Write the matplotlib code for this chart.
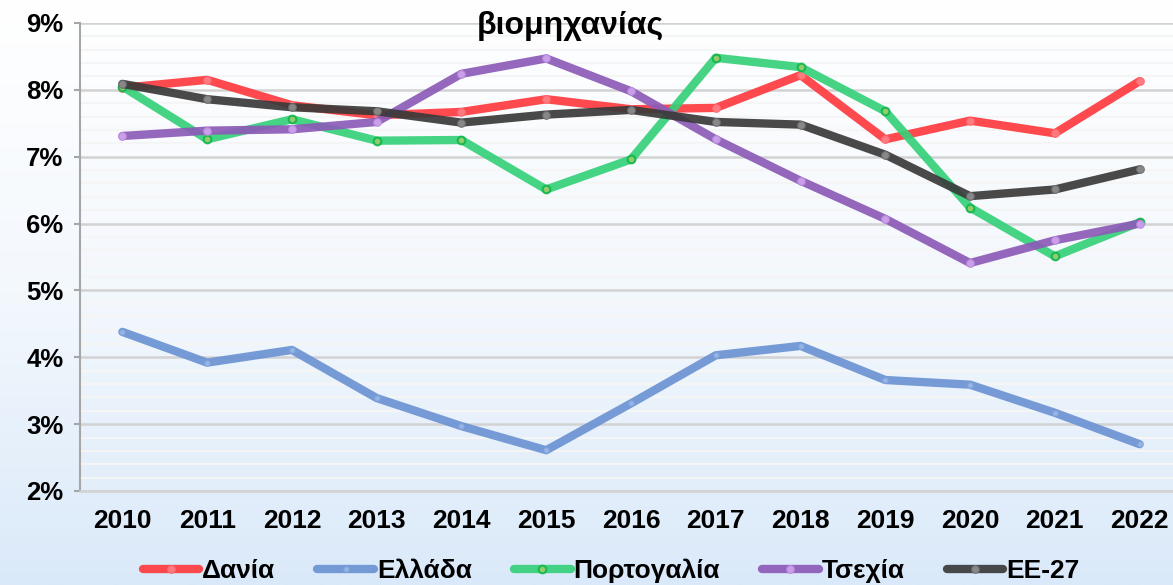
import numpy as np
import matplotlib
matplotlib.use("Agg")
from matplotlib import pyplot as plt
from matplotlib.colors import LinearSegmentedColormap
from matplotlib.ticker import MultipleLocator, FuncFormatter

years = list(range(2010, 2023))
series_names = ["Δανία", "Ελλάδα", "Πορτογαλία", "Τσεχία", "ΕΕ-27"]
denmark = [8.03, 8.15, 7.77, 7.62, 7.67, 7.86, 7.71, 7.73, 8.22, 7.26, 7.54, 7.35, 8.13]
greece = [4.38, 3.92, 4.11, 3.39, 2.97, 2.61, 3.31, 4.03, 4.17, 3.66, 3.59, 3.17, 2.70]
portugal = [8.05, 7.26, 7.56, 7.24, 7.25, 6.51, 6.96, 8.48, 8.34, 7.68, 6.24, 5.51, 6.02]
czechia = [7.31, 7.39, 7.41, 7.52, 8.24, 8.47, 7.98, 7.26, 6.64, 6.07, 5.41, 5.75, 6.00]
eu27 = [8.09, 7.86, 7.74, 7.68, 7.51, 7.63, 7.70, 7.52, 7.48, 7.03, 6.41, 6.51, 6.81]
title_text = "βιομηχανίας"

# line colour, marker face, marker edge
styles = [
    ("#FF3B3F", "#FF8086", "#FF6A70"),
    ("#6B93D3", "#9DB8E6", "#8AABE0"),
    ("#36D07A", "#9CCB6A", "#12B84E"),
    ("#8C5BB8", "#CFA3EE", "#B98BDF"),
    ("#3A3A3A", "#8E8E8E", "#6E6E6E"),
]

plt.rcParams["font.family"] = ["Liberation Sans", "DejaVu Sans"]
plt.rcParams["font.weight"] = "bold"

fig = plt.figure(figsize=(11.73, 5.85), dpi=100)

# background gradient over the whole figure
bg = fig.add_axes([0, 0, 1, 1], zorder=-10)
grad = np.linspace(0, 1, 256).reshape(-1, 1)
cmap = LinearSegmentedColormap.from_list("bg", ["#FFFFFF", "#F3F8FD", "#DAE9F9"])
bg.imshow(grad, aspect="auto", cmap=cmap, extent=[0, 1, 0, 1], origin="upper")
bg.axis("off")

ax = fig.add_axes([80 / 1173, 94 / 585, 1102 / 1173, 468 / 585])
ax.patch.set_alpha(0)

all_data = [denmark, greece, portugal, czechia, eu27]
for name, vals, (lc, mf, me) in zip(series_names, all_data, styles):
    ms = 5.5 if name != "Ελλάδα" else 3.5
    ax.plot(years, vals, color=lc, lw=6, alpha=0.92, solid_capstyle="round",
            marker="o", markersize=ms, markerfacecolor=mf, markeredgecolor=me,
            markeredgewidth=1.5 if name == "Πορτογαλία" else 0.8, label=name, zorder=3)

ax.set_xlim(2009.5, 2022.5)
ax.set_ylim(2, 9)
ax.set_xticks(years)
ax.yaxis.set_major_locator(MultipleLocator(1))
ax.yaxis.set_minor_locator(MultipleLocator(0.2))
ax.yaxis.set_major_formatter(FuncFormatter(lambda v, p: f"{v:.0f}%"))
ax.grid(axis="y", which="major", color="#D2D2D2", lw=1.8, zorder=1)
ax.grid(axis="y", which="minor", color="#F5F5F5", lw=1.6, zorder=0.5)

for s in ["top", "right"]:
    ax.spines[s].set_visible(False)
ax.spines["left"].set_color("#A6A6A6")
ax.spines["left"].set_linewidth(1.5)
ax.spines["bottom"].set_color("#D2D2D2")
ax.spines["bottom"].set_linewidth(1.8)

ax.tick_params(axis="y", which="major", length=4, color="#A6A6A6", width=1.5,
               labelsize=18.5, pad=8)
ax.tick_params(axis="y", which="minor", length=0)
ax.tick_params(axis="x", length=0, labelsize=19, pad=13)

fig.text(570 / 1173, 1 - 26 / 585, title_text, ha="center", va="center",
         fontsize=23, fontweight="bold")

fig.legend(loc="center", bbox_to_anchor=(611 / 1173, 1 - 571 / 585), ncol=5,
           frameon=False, fontsize=19, handlelength=2.15, handletextpad=0.1,
           columnspacing=1.6)

fig.savefig("out.png", dpi=100)
